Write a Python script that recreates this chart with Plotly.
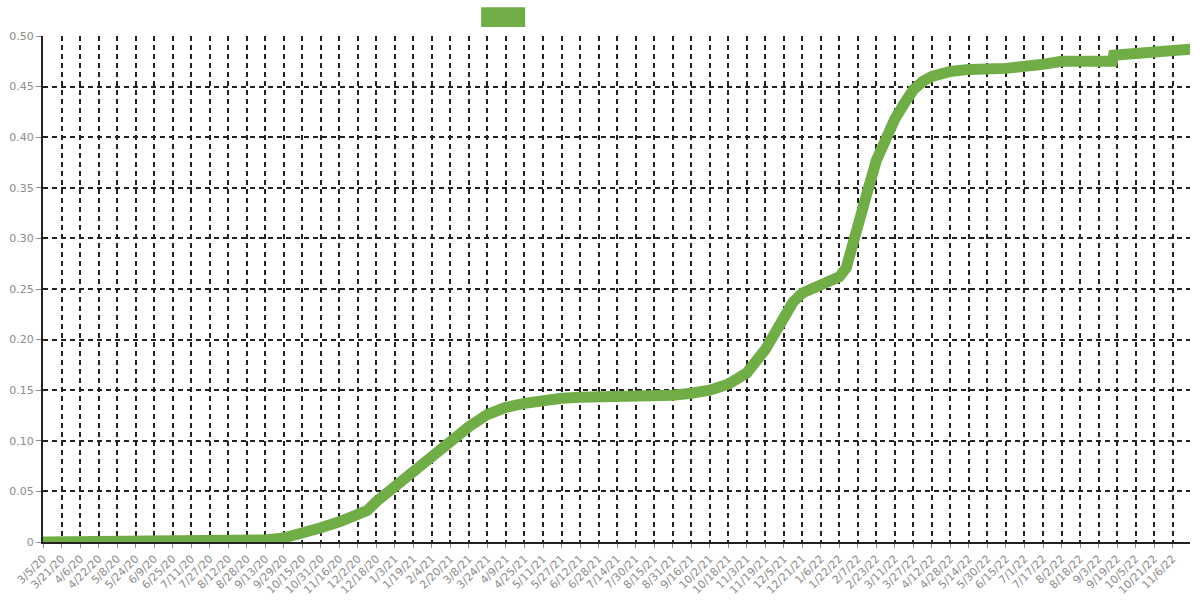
import datetime as dt
import plotly.graph_objects as go

FONT = "DejaVu Sans"
GREEN = "#70ad47"
GRID = "#222222"
LABEL = "#8c8c8c"

# share over time
dates = [
    "2020-03-05", "2020-04-22", "2020-06-25", "2020-08-12", "2020-08-28",
    "2020-09-13", "2020-09-29", "2020-10-15", "2020-10-31", "2020-11-16",
    "2020-12-02", "2020-12-10", "2020-12-18", "2021-01-03", "2021-01-19",
    "2021-02-04", "2021-02-20", "2021-03-08", "2021-03-24", "2021-04-09",
    "2021-04-25", "2021-05-11", "2021-05-27", "2021-06-12", "2021-07-14",
    "2021-08-15", "2021-08-31", "2021-09-16", "2021-10-02", "2021-10-18",
    "2021-11-03", "2021-11-19", "2021-12-05", "2021-12-13", "2021-12-21",
    "2022-01-06", "2022-01-22", "2022-01-28", "2022-02-07", "2022-02-15",
    "2022-02-23", "2022-03-03", "2022-03-11", "2022-03-19", "2022-03-27",
    "2022-04-04", "2022-04-12", "2022-04-28", "2022-05-14", "2022-06-15",
    "2022-07-01", "2022-07-17", "2022-08-02", "2022-09-15", "2022-09-16",
    "2022-10-05", "2022-10-21", "2022-11-06", "2022-11-21",
]
share = [
    0.0, 0.0, 0.0003, 0.0008, 0.001,
    0.002, 0.004, 0.008, 0.014, 0.020,
    0.026, 0.031, 0.040, 0.055, 0.068,
    0.083, 0.099, 0.114, 0.126, 0.133,
    0.137, 0.140, 0.142, 0.143, 0.143,
    0.1435, 0.145, 0.147, 0.150, 0.156,
    0.167, 0.190, 0.223, 0.237, 0.246,
    0.255, 0.262, 0.271, 0.308, 0.345,
    0.377, 0.399, 0.418, 0.433, 0.447,
    0.455, 0.460, 0.465, 0.467, 0.468,
    0.469, 0.472, 0.475, 0.475, 0.481,
    0.483, 0.485, 0.486, 0.487,
]

# x ticks every 16 days from the first date
first_tick = dt.date(2020, 3, 5)
n_ticks = 62
tick_dates = [first_tick + dt.timedelta(days=16 * i) for i in range(n_ticks)]
tick_labels = [f"{d.month}/{d.day}/{d.strftime('%y')}" for d in tick_dates]

y_ticks = [0, 0.05, 0.10, 0.15, 0.20, 0.25, 0.30, 0.35, 0.40, 0.45, 0.50]
y_labels = ["0"] + [f"{v:.2f}" for v in y_ticks[1:]]

fig = go.Figure(data=[go.Scatter(x=dates, y=share, mode="lines",
                                 line=dict(color=GREEN, width=11),
                                 cliponaxis=False, showlegend=False)])

fig.update_layout(
    width=1200, height=600,
    margin=dict(l=43, r=10, t=36, b=58),
    paper_bgcolor="white", plot_bgcolor="white",
    font=dict(family=FONT, size=11, color=LABEL),
    showlegend=False,
    # legend swatch (the legend has no label text)
    shapes=[dict(type="rect", xref="paper", yref="paper",
                 x0=0.382, x1=0.4204, y0=1.018, y1=1.057,
                 fillcolor=GREEN, line=dict(width=0))],
)
fig.update_xaxes(
    type="date", range=["2020-03-05", "2022-11-21"], automargin=False,
    tickvals=[d.isoformat() for d in tick_dates], ticktext=tick_labels,
    tickangle=-45, ticks="outside", ticklen=4, tickcolor=LABEL,
    showgrid=True, gridcolor=GRID, gridwidth=2, griddash="5px,4px",
    showline=True, linecolor=GRID, linewidth=2,
    zeroline=False, layer="below traces",
)
fig.update_yaxes(
    range=[0, 0.5], tickvals=y_ticks, ticktext=y_labels, automargin=False,
    ticks="outside", ticklen=5, tickcolor=LABEL,
    showgrid=True, gridcolor=GRID, gridwidth=2, griddash="5px,4px",
    showline=True, linecolor=GRID, linewidth=2,
    zeroline=False, layer="below traces",
)

# no page margin, round line ends like the original
post = ("document.body.style.margin='0';"
        "document.querySelectorAll('path.js-line').forEach("
        "function(p){p.style.strokeLinecap='round';});")
fig.write_html("out.html", config={"displayModeBar": False},
               post_script=post)
